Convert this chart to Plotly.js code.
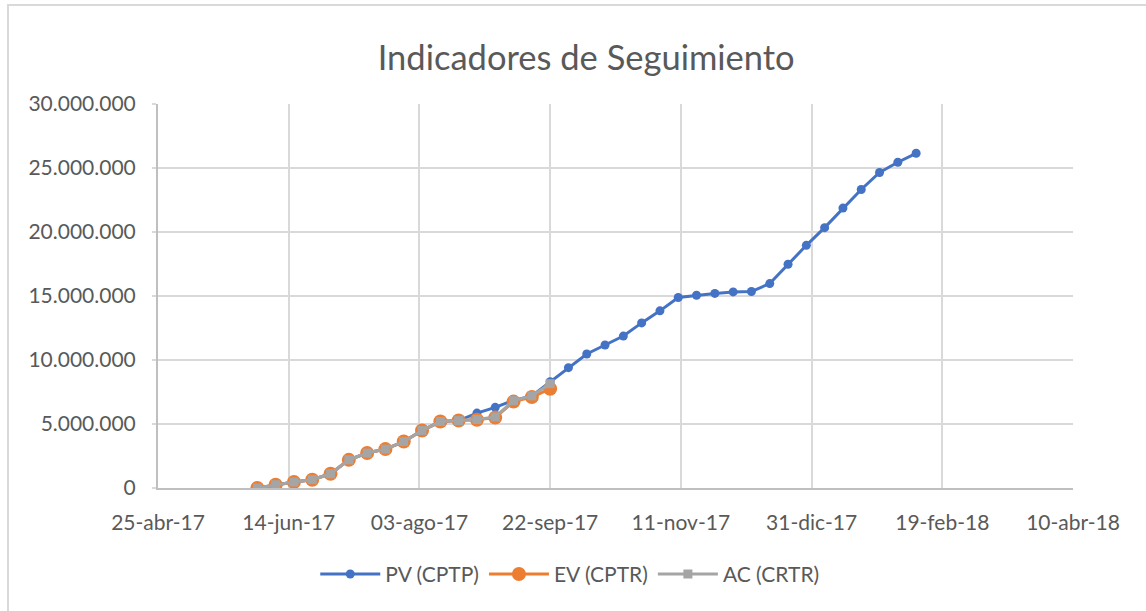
<!DOCTYPE html>
<html>
<head>
<meta charset="utf-8">
<script src="https://cdn.plot.ly/plotly-3.0.1.min.js"></script>
<style>
  html, body { margin: 0; padding: 0; background: #ffffff; overflow: hidden; }
  #frame { position: absolute; left: 7px; top: 4px; width: 1200px; height: 700px; border: 2px solid #D9D9D9; box-sizing: border-box; }
  #chart { position: absolute; left: 0; top: 0; width: 1146px; height: 611px; }
</style>
</head>
<body>
<div id="frame"></div>
<div id="chart"></div>
<script>
// Weekly dates (Fridays) starting 2017-06-02
const dates = [
  "2017-06-02","2017-06-09","2017-06-16","2017-06-23","2017-06-30",
  "2017-07-07","2017-07-14","2017-07-21","2017-07-28","2017-08-04",
  "2017-08-11","2017-08-18","2017-08-25","2017-09-01","2017-09-08",
  "2017-09-15","2017-09-22","2017-09-29","2017-10-06","2017-10-13",
  "2017-10-20","2017-10-27","2017-11-03","2017-11-10","2017-11-17",
  "2017-11-24","2017-12-01","2017-12-08","2017-12-15","2017-12-22",
  "2017-12-29","2018-01-05","2018-01-12","2018-01-19","2018-01-26",
  "2018-02-02","2018-02-09"
];

const pvValues = [
  0, 260000, 470000, 650000, 1110000,
  2200000, 2730000, 3040000, 3630000, 4490000,
  5190000, 5270000, 5850000, 6300000, 6850000,
  7200000, 8300000, 9400000, 10470000, 11170000,
  11870000, 12900000, 13840000, 14880000, 15060000,
  15200000, 15320000, 15350000, 15970000, 17480000,
  18960000, 20340000, 21870000, 23320000, 24650000,
  25450000, 26150000
];

const evValues = [
  0, 260000, 470000, 650000, 1110000,
  2200000, 2730000, 3040000, 3630000, 4490000,
  5190000, 5270000, 5330000, 5500000, 6750000,
  7100000, 7750000
];

const acValues = [
  0, 260000, 470000, 650000, 1110000,
  2200000, 2730000, 3040000, 3630000, 4490000,
  5190000, 5270000, 5350000, 5550000, 6830000,
  7200000, 8150000
];

const xTickVals = ["2017-04-25","2017-06-14","2017-08-03","2017-09-22","2017-11-11","2017-12-31","2018-02-19","2018-04-10"];
const xTickText = ["25-abr-17","14-jun-17","03-ago-17","22-sep-17","11-nov-17","31-dic-17","19-feb-18","10-abr-18"];

const seriesNames = ["PV (CPTP)", "EV (CPTR)", "AC (CRTR)"];

const fontFam = "Lato, 'Open Sans', sans-serif";

const traces = [
  {
    x: dates, y: pvValues, name: seriesNames[0], type: "scatter", mode: "lines+markers",
    line: { color: "#4472C4", width: 3 },
    marker: { color: "#4472C4", size: 9, symbol: "circle" }
  },
  {
    x: dates.slice(0, evValues.length), y: evValues, name: seriesNames[1], type: "scatter", mode: "lines+markers",
    line: { color: "#ED7D31", width: 3 },
    marker: { color: "#ED7D31", size: 14, symbol: "circle" }
  },
  {
    x: dates.slice(0, acValues.length), y: acValues, name: seriesNames[2], type: "scatter", mode: "lines+markers",
    line: { color: "#A5A5A5", width: 3 },
    marker: { color: "#A5A5A5", size: 9, symbol: "square" }
  }
];

const layout = {
  width: 1146, height: 611,
  paper_bgcolor: "rgba(0,0,0,0)",
  plot_bgcolor: "#ffffff",
  separators: ",.",
  margin: { l: 158, r: 73, t: 104, b: 123 },
  font: { family: fontFam, color: "#595959", size: 21 },
  title: {
    text: "Indicadores de Seguimiento",
    font: { family: fontFam, size: 34.5, color: "#595959" },
    xref: "container", x: 0.5115, xanchor: "center", y: 0.905, yanchor: "middle"
  },
  xaxis: {
    type: "date",
    range: ["2017-04-25", "2018-04-10"],
    tickmode: "array", tickvals: xTickVals, ticktext: xTickText,
    showgrid: true, gridcolor: "#D9D9D9", gridwidth: 2,
    showline: true, linecolor: "#BFBFBF", linewidth: 2,
    ticks: "", ticklabelstandoff: 15,
    tickfont: { family: fontFam, size: 21, color: "#595959" },
    zeroline: false, fixedrange: true
  },
  yaxis: {
    range: [0, 30000000], dtick: 5000000, tick0: 0,
    tickformat: ",d",
    showgrid: true, gridcolor: "#D9D9D9", gridwidth: 2,
    showline: true, linecolor: "#BFBFBF", linewidth: 2,
    ticks: "outside", ticklen: 4, tickcolor: "#D9D9D9", tickwidth: 2,
    ticklabelstandoff: 12,
    tickfont: { family: fontFam, size: 21, color: "#595959" },
    zeroline: false, fixedrange: true
  },
  legend: {
    orientation: "h", x: 0.45, xanchor: "center", y: -0.225, yanchor: "middle",
    font: { family: fontFam, size: 21, color: "#595959" },
    itemwidth: 60, traceorder: "normal"
  },
  showlegend: true
};

Plotly.newPlot("chart", traces, layout, { displayModeBar: false, staticPlot: true });
</script>
</body>
</html>
